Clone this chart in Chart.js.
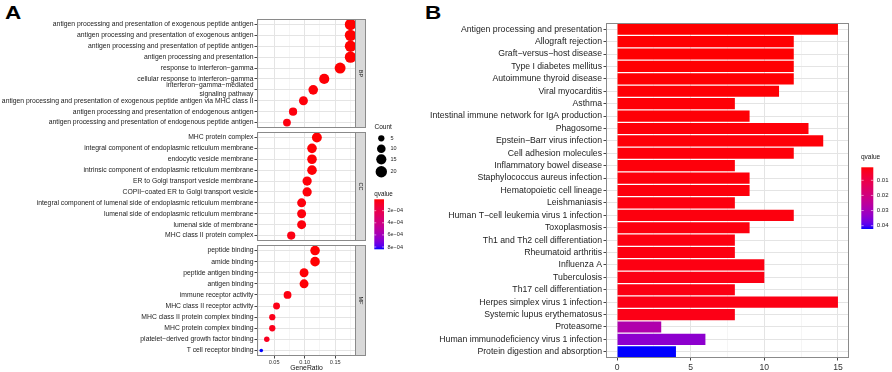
<!DOCTYPE html>
<html>
<head>
<meta charset="utf-8">
<script src="https://cdn.jsdelivr.net/npm/chart.js@4.4.1/dist/chart.umd.min.js"></script>
<style>
html,body{margin:0;padding:0;background:#fff;}
body{width:892px;height:372px;position:relative;overflow:hidden;font-family:"Liberation Sans",Arial,sans-serif;}
canvas{position:absolute;}
.tag{position:absolute;font-weight:bold;font-size:18px;line-height:1;transform:scaleX(1.25);transform-origin:0 0;color:#000;}
</style>
</head>
<body>
<div class="tag" style="left:5px;top:3.5px">A</div>
<div class="tag" style="left:425px;top:3.5px">B</div>
<canvas id="bp" width="440" height="109" style="left:0;top:19px"></canvas>
<canvas id="cc" width="440" height="135" style="left:0;top:120px"></canvas>
<canvas id="mf" width="440" height="127" style="left:0;top:245px"></canvas>
<canvas id="kegg" width="462" height="372" style="left:430px;top:0"></canvas>
<script>
// ===== DATA: panel A (GO dot plot) =====
const bpTerms = [
  "antigen processing and presentation of exogenous peptide antigen",
  "antigen processing and presentation of exogenous antigen",
  "antigen processing and presentation of peptide antigen",
  "antigen processing and presentation",
  "response to interferon\u2212gamma",
  "cellular response to interferon\u2212gamma",
  ["interferon\u2212gamma\u2212mediated", "signaling pathway"],
  "antigen processing and presentation of exogenous peptide antigen via MHC class II",
  "antigen processing and presentation of endogenous antigen",
  "antigen processing and presentation of endogenous peptide antigen"
];
const bpRatio = [0.175, 0.175, 0.175, 0.175, 0.158, 0.132, 0.114, 0.098, 0.081, 0.071];
const bpCount = [20, 20, 20, 20, 18, 15, 13, 11, 9, 8];
const bpQ = [1.2e-5, 1.2e-5, 1.2e-5, 1.3e-5, 1.5e-5, 2.0e-5, 2.2e-5, 2.6e-5, 3.1e-5, 3.4e-5];

const ccTerms = [
  "MHC protein complex",
  "integral component of endoplasmic reticulum membrane",
  "endocytic vesicle membrane",
  "intrinsic component of endoplasmic reticulum membrane",
  "ER to Golgi transport vesicle membrane",
  "COPII\u2212coated ER to Golgi transport vesicle",
  "integral component of lumenal side of endoplasmic reticulum membrane",
  "lumenal side of endoplasmic reticulum membrane",
  "lumenal side of membrane",
  "MHC class II protein complex"
];
const ccRatio = [0.120, 0.112, 0.112, 0.112, 0.104, 0.104, 0.095, 0.095, 0.095, 0.078];
const ccCount = [14, 13, 13, 13, 12, 12, 11, 11, 11, 9];
const ccQ = [1.5e-5, 1.8e-5, 1.8e-5, 1.9e-5, 2.4e-5, 2.4e-5, 2.9e-5, 2.9e-5, 2.9e-5, 4.0e-5];

const mfTerms = [
  "peptide binding",
  "amide binding",
  "peptide antigen binding",
  "antigen binding",
  "immune receptor activity",
  "MHC class II receptor activity",
  "MHC class II protein complex binding",
  "MHC protein complex binding",
  "platelet\u2212derived growth factor binding",
  "T cell receptor binding"
];
const mfRatio = [0.117, 0.117, 0.099, 0.099, 0.072, 0.054, 0.047, 0.047, 0.038, 0.029];
const mfCount = [13, 13, 11, 11, 8, 6, 5, 5, 4, 3];
const mfQ = [1.4e-5, 1.4e-5, 2.0e-5, 2.0e-5, 3.5e-5, 4.6e-5, 5.2e-5, 5.2e-5, 6.8e-5, 8.38e-4];

const countBreaks = [5, 10, 15, 20];
const qBreaksA = [2e-4, 4e-4, 6e-4, 8e-4];
const qLabelsA = ["2e\u221204", "4e\u221204", "6e\u221204", "8e\u221204"];

// ===== DATA: panel B (KEGG bars) =====
const keggTerms = [
  "Antigen processing and presentation", "Allograft rejection", "Graft\u2212versus\u2212host disease",
  "Type I diabetes mellitus", "Autoimmune thyroid disease", "Viral myocarditis", "Asthma",
  "Intestinal immune network for IgA production", "Phagosome", "Epstein\u2212Barr virus infection",
  "Cell adhesion molecules", "Inflammatory bowel disease", "Staphylococcus aureus infection",
  "Hematopoietic cell lineage", "Leishmaniasis", "Human T\u2212cell leukemia virus 1 infection",
  "Toxoplasmosis", "Th1 and Th2 cell differentiation", "Rheumatoid arthritis", "Influenza A",
  "Tuberculosis", "Th17 cell differentiation", "Herpes simplex virus 1 infection",
  "Systemic lupus erythematosus", "Proteasome", "Human immunodeficiency virus 1 infection",
  "Protein digestion and absorption"
];
const keggCount = [15, 12, 12, 12, 12, 11, 8, 9, 13, 14, 12, 8, 9, 9, 8, 12, 9, 8, 8, 10, 10, 8, 15, 8, 3, 6, 4];
const keggQ = [0.0014, 0.0015, 0.0015, 0.0016, 0.0016, 0.0017, 0.0018, 0.0018, 0.0019, 0.0019, 0.0020,
  0.0021, 0.0021, 0.0022, 0.0023, 0.0023, 0.0024, 0.0025, 0.0025, 0.0026, 0.0027, 0.0027, 0.0028,
  0.0030, 0.0280, 0.0340, 0.0422];
const qBreaksB = [0.01, 0.02, 0.03, 0.04];
const qLabelsB = ["0.01", "0.02", "0.03", "0.04"];

// ===== colour + size scales =====
const LAB_RED = [53.24, 80.09, 67.20], LAB_BLUE = [32.30, 79.19, -107.86];
function labToRgb(L, a, b) {
  const fy = (L + 16) / 116, fx = fy + a / 500, fz = fy - b / 200;
  const f = t => t > 6 / 29 ? t * t * t : 3 * (6 / 29) * (6 / 29) * (t - 4 / 29);
  const X = 0.95047 * f(fx), Y = f(fy), Z = 1.08883 * f(fz);
  const r = 3.2406 * X - 1.5372 * Y - 0.4986 * Z;
  const g = -0.9689 * X + 1.8758 * Y + 0.0415 * Z;
  const bl = 0.0557 * X - 0.2040 * Y + 1.0570 * Z;
  const gam = c => { c = Math.min(1, Math.max(0, c)); return Math.round(255 * (c <= 0.0031308 ? 12.92 * c : 1.055 * Math.pow(c, 1 / 2.4) - 0.055)); };
  return "rgb(" + gam(r) + "," + gam(g) + "," + gam(bl) + ")";
}
function gradColor(t) {
  t = Math.min(1, Math.max(0, t));
  return labToRgb(LAB_RED[0] + t * (LAB_BLUE[0] - LAB_RED[0]), LAB_RED[1] + t * (LAB_BLUE[1] - LAB_RED[1]), LAB_RED[2] + t * (LAB_BLUE[2] - LAB_RED[2]));
}

const allQA = bpQ.concat(ccQ, mfQ);
const qMinA = Math.min(...allQA), qMaxA = Math.max(...allQA);
const qMinB = Math.min(...keggQ), qMaxB = Math.max(...keggQ);
const allCount = bpCount.concat(ccCount, mfCount);
const cMin = Math.min(...allCount), cMax = Math.max(...allCount);
function radius(c) { return 1.8 + 3.9 * Math.sqrt((c - cMin) / (cMax - cMin)); }

// ===== common stuff =====
Chart.defaults.font.family = '"Liberation Sans", Arial, Helvetica, sans-serif';
Chart.defaults.color = "#222";
const FONT = '"Liberation Sans", Arial, sans-serif';
const GRID = "#e4e4e4", GRID_MINOR = "#efefef";

function isMult(v, step) { return Math.abs(v / step - Math.round(v / step)) < 1e-6; }

function drawColorbar(ctx, x, y, w, h, min, max, breaks, labels, fs) {
  const g = ctx.createLinearGradient(0, y, 0, y + h);
  for (let i = 0; i <= 20; i++) g.addColorStop(i / 20, gradColor(i / 20));
  ctx.fillStyle = g;
  ctx.fillRect(x, y, w, h);
  ctx.font = fs + "px " + FONT;
  ctx.textAlign = "left";
  ctx.textBaseline = "middle";
  breaks.forEach(function (v, i) {
    const yy = y + (v - min) / (max - min) * h;
    ctx.strokeStyle = "rgba(255,255,255,0.9)";
    ctx.lineWidth = 0.6;
    ctx.beginPath();
    ctx.moveTo(x, yy); ctx.lineTo(x + w * 0.2, yy);
    ctx.moveTo(x + w * 0.8, yy); ctx.lineTo(x + w, yy);
    ctx.stroke();
    ctx.fillStyle = "#222";
    ctx.fillText(labels[i], x + w + 3.5, yy);
  });
}

const panelPlugin = {
  id: "panel",
  afterDraw(chart, args, opts) {
    const ctx = chart.ctx, a = chart.chartArea;
    ctx.save();
    ctx.strokeStyle = "#8a8a8a";
    ctx.lineWidth = 1;
    const L = Math.round(a.left) + 0.5, T = Math.round(a.top) + 0.5;
    const R = Math.round(a.right) - 0.5, B = Math.round(a.bottom) - 0.5;
    ctx.strokeRect(L, T, R - L, B - T);
    if (opts.strip) {
      const sw = 10;
      ctx.fillStyle = "#d9d9d9";
      ctx.fillRect(R, T, sw, B - T);
      ctx.strokeRect(R, T, sw, B - T);
      ctx.translate(R + sw / 2, (T + B) / 2);
      ctx.rotate(Math.PI / 2);
      ctx.fillStyle = "#1a1a1a";
      ctx.font = "5.5px " + FONT;
      ctx.textAlign = "center";
      ctx.textBaseline = "middle";
      ctx.fillText(opts.strip, 0, 0);
    }
    ctx.restore();
  }
};

const keysPlugin = {
  id: "keys",
  afterDraw(chart, args, opts) {
    const ctx = chart.ctx;
    ctx.save();
    if (opts.kind === "A") {
      ctx.fillStyle = "#111";
      ctx.font = "6.5px " + FONT;
      ctx.textAlign = "left";
      ctx.textBaseline = "middle";
      ctx.fillText("Count", 374.5, 7.5);
      const keyY = [18.3, 28.7, 39.3, 51.7];
      countBreaks.forEach(function (c, i) {
        ctx.fillStyle = "#000";
        ctx.beginPath();
        ctx.arc(381.3, keyY[i], radius(c), 0, Math.PI * 2);
        ctx.fill();
        ctx.font = "5.5px " + FONT;
        ctx.fillStyle = "#222";
        ctx.fillText(String(c), 390.5, keyY[i]);
      });
      ctx.fillStyle = "#111";
      ctx.font = "6.3px " + FONT;
      ctx.fillText("qvalue", 374.3, 74);
      drawColorbar(ctx, 374.3, 79.3, 9.7, 50, qMinA, qMaxA, qBreaksA, qLabelsA, 5.5);
    }
    if (opts.kind === "B") {
      ctx.fillStyle = "#111";
      ctx.font = "6.5px " + FONT;
      ctx.textAlign = "left";
      ctx.textBaseline = "middle";
      ctx.fillText("qvalue", 431, 157.5);
      drawColorbar(ctx, 431.3, 167.3, 12, 61.7, qMinB, qMaxB, qBreaksB, qLabelsB, 6);
    }
    ctx.restore();
  }
};

// ===== panel A facets =====
function makeFacet(id, terms, ratio, count, q, strip, showX, pad, keyKind) {
  return new Chart(document.getElementById(id), {
    type: "bubble",
    data: {
      datasets: [{
        data: ratio.map(function (r, i) { return { x: r, y: i, r: radius(count[i]) }; }),
        backgroundColor: q.map(function (v) { return gradColor((v - qMinA) / (qMaxA - qMinA)); }),
        borderWidth: 0,
        clip: false
      }]
    },
    options: {
      responsive: false,
      animation: false,
      devicePixelRatio: 1,
      layout: { padding: pad, autoPadding: false },
      plugins: { legend: { display: false }, tooltip: { enabled: false }, panel: { strip: strip }, keys: { kind: keyKind } },
      scales: {
        x: {
          type: "linear", min: 0.022, max: 0.184,
          border: { display: false },
          ticks: {
            display: showX, stepSize: 0.025, includeBounds: false, autoSkip: false, maxRotation: 0,
            padding: 1, font: { size: 5.6 }, color: "#333",
            callback: function (v) { return isMult(v, 0.05) ? v.toFixed(2) : ""; }
          },
          grid: {
            drawTicks: showX, tickLength: 2.5,
            color: function (c) { return isMult(c.tick.value, 0.05) ? GRID : GRID_MINOR; },
            lineWidth: function (c) { return isMult(c.tick.value, 0.05) ? 1 : 0.6; },
            tickColor: function (c) { return isMult(c.tick.value, 0.05) ? "#444" : "rgba(0,0,0,0)"; }
          },
          title: { display: showX, text: "GeneRatio", font: { size: 6.8 }, color: "#111", padding: { top: 0, bottom: 0 } },
          afterFit: function (s) { s.paddingLeft = 0; s.paddingRight = 0; s.height = showX ? 16 : 0; }
        },
        y: {
          type: "category", labels: terms, offset: true,
          border: { display: false },
          ticks: { autoSkip: false, padding: 1, font: { size: 6.8, lineHeight: 1.4 }, color: "#222" },
          grid: { offset: false, color: GRID, lineWidth: 1, tickLength: 2.5, tickColor: "#444" },
          afterFit: function (s) { s.width = 257; s.paddingTop = 0; s.paddingBottom = 0; }
        }
      }
    },
    plugins: [panelPlugin, keysPlugin]
  });
}

makeFacet("bp", bpTerms, bpRatio, bpCount, bpQ, "BP", false, { left: 0, right: 84, top: 0, bottom: 0 }, null);
makeFacet("cc", ccTerms, ccRatio, ccCount, ccQ, "CC", false, { left: 0, right: 84, top: 12, bottom: 14 }, "A");
makeFacet("mf", mfTerms, mfRatio, mfCount, mfQ, "MF", true, { left: 0, right: 84, top: 0, bottom: 0 }, null);

// ===== panel B =====
new Chart(document.getElementById("kegg"), {
  type: "bar",
  data: {
    labels: keggTerms,
    datasets: [{
      data: keggCount,
      backgroundColor: keggQ.map(function (v) { return gradColor((v - qMinB) / (qMaxB - qMinB)); }),
      borderWidth: 0,
      barPercentage: 0.9,
      categoryPercentage: 1
    }]
  },
  options: {
    indexAxis: "y",
    responsive: false,
    animation: false,
    devicePixelRatio: 1,
    layout: { padding: { left: 0, right: 43, top: 23, bottom: 0 }, autoPadding: false },
    plugins: { legend: { display: false }, tooltip: { enabled: false }, panel: { strip: null }, keys: { kind: "B" } },
    scales: {
      x: {
        type: "linear", min: -0.75, max: 15.75,
        border: { display: false },
        ticks: {
          stepSize: 2.5, includeBounds: false, autoSkip: false, maxRotation: 0,
          padding: 1.5, font: { size: 8.6 }, color: "#333",
          callback: function (v) { return isMult(v, 5) ? String(v) : ""; }
        },
        grid: {
          tickLength: 2.5,
          color: function (c) { return isMult(c.tick.value, 5) ? GRID : GRID_MINOR; },
          lineWidth: function (c) { return isMult(c.tick.value, 5) ? 1 : 0.6; },
          tickColor: function (c) { return isMult(c.tick.value, 5) ? "#444" : "rgba(0,0,0,0)"; }
        },
        afterFit: function (s) { s.paddingLeft = 0; s.paddingRight = 0; s.height = 14; }
      },
      y: {
        type: "category", offset: true,
        border: { display: false },
        ticks: { autoSkip: false, padding: 1.5, font: { size: 8.7 }, color: "#222" },
        grid: { offset: false, color: GRID, lineWidth: 1, tickLength: 2.5, tickColor: "#444" },
        afterFit: function (s) { s.width = 176; s.paddingTop = 0; s.paddingBottom = 0; }
      }
    }
  },
  plugins: [panelPlugin, keysPlugin]
});
</script>
</body>
</html>
